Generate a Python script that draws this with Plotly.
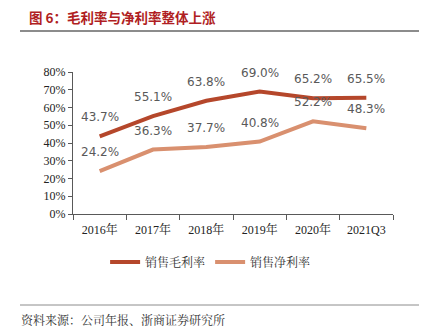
import plotly.graph_objects as go

categories = ["2016年", "2017年", "2018年", "2019年", "2020年", "2021Q3"]
gross_margin = [43.7, 55.1, 63.8, 69.0, 65.2, 65.5]
net_margin = [24.2, 36.3, 37.7, 40.8, 52.2, 48.3]
y_ticks = [0, 10, 20, 30, 40, 50, 60, 70, 80]
y_tick_labels = [f"{v}%" for v in y_ticks]

W, H = 424, 334
L, R, T, B = 73, 31, 72, 120
pw, ph = W - L - R, H - T - B

def px_x(x):
    return (x - L) / pw

def px_y(y):
    return (H - B - y) / ph

dark = "#B5472B"
light = "#D9906F"
label_font = dict(family="DejaVu Sans, Noto Sans", size=12, color="#595959")

fig = go.Figure()
fig.add_trace(go.Scatter(
    x=categories, y=gross_margin, mode="lines", name="销售毛利率",
    line=dict(color=dark, width=4),
))
fig.add_trace(go.Scatter(
    x=categories, y=net_margin, mode="lines", name="销售净利率",
    line=dict(color=light, width=4),
))

annotations = []
for series in (gross_margin, net_margin):
    for c, v in zip(categories, series):
        annotations.append(dict(x=c, y=v, xref="x", yref="y", text=f"{v:.1f}%",
                                showarrow=False, yshift=19, yanchor="middle",
                                font=label_font))

annotations += [
    dict(text="<b>图 6：毛利率与净利率整体上涨</b>", xref="paper", yref="paper",
         x=px_x(27), y=px_y(17), xanchor="left", yanchor="middle", showarrow=False,
         font=dict(family="Noto Sans CJK SC", size=13.5, color="#B01E23")),
    dict(text="资料来源：公司年报、浙商证券研究所", xref="paper", yref="paper",
         x=px_x(19), y=px_y(319), xanchor="left", yanchor="middle", showarrow=False,
         font=dict(family="Noto Serif CJK SC, Noto Sans CJK SC", size=12, color="#333333")),
]

fig.update_layout(
    width=W, height=H,
    margin=dict(l=L, r=R, t=T, b=B),
    paper_bgcolor="white", plot_bgcolor="white",
    showlegend=True,
    legend=dict(orientation="h", x=0.43, xanchor="center", y=px_y(262), yanchor="middle",
                font=dict(family="Noto Serif CJK SC, Noto Sans CJK SC", size=12, color="#333333"),
                itemwidth=30, tracegroupgap=0, bgcolor="rgba(0,0,0,0)"),
    xaxis=dict(type="category", showgrid=False, showline=True, linecolor="#595959", linewidth=1,
               ticks="outside", tickson="boundaries", ticklen=5, tickcolor="#595959",
               ticklabelstandoff=5,
               tickfont=dict(family="Liberation Serif, Noto Serif CJK SC", size=12, color="#222222"),
               range=[-0.5, 5.5]),
    yaxis=dict(range=[0, 80], tickvals=y_ticks, ticktext=y_tick_labels, showgrid=False,
               showline=True, linecolor="#595959", linewidth=1, ticks="outside", ticklen=4,
               tickcolor="#595959", zeroline=False,
               tickfont=dict(family="Liberation Serif", size=12, color="#222222")),
    shapes=[
        dict(type="line", xref="paper", yref="paper", x0=px_x(20), x1=px_x(419), y0=px_y(31), y1=px_y(31),
             line=dict(color="#8C8C8C", width=2)),
        dict(type="line", xref="paper", yref="paper", x0=px_x(20), x1=px_x(419), y0=px_y(305), y1=px_y(305),
             line=dict(color="#8C8C8C", width=1)),
    ],
    annotations=annotations,
)

fig.write_html("out.html")
